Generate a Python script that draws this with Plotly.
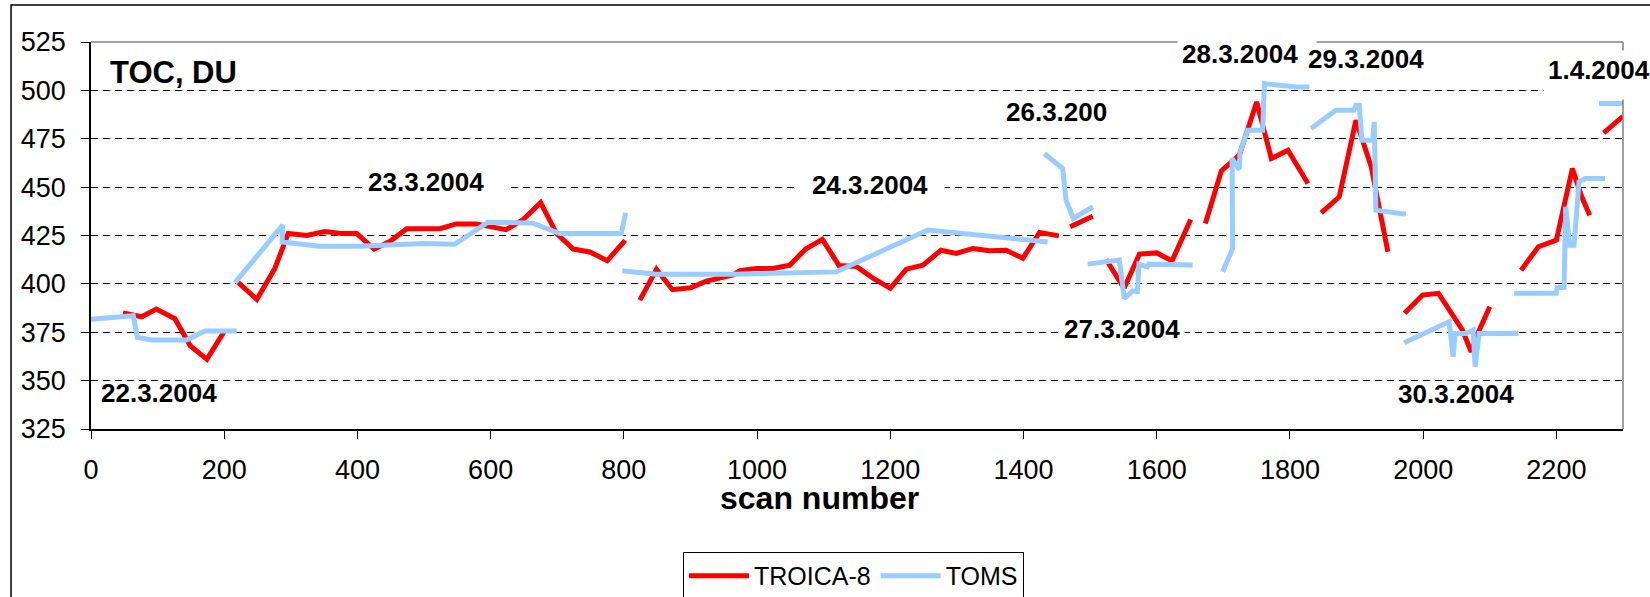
import plotly.graph_objects as go

# ---- data (scan number, TOC in DU); None separates daily segments ----
troica_x = [48, 76, 98, 126, 149, 174, 201, None,
            220, 249, 276, 296, 324, 351, 376, 399, 425, 449, 474, 524, 548, 578, 623, 648, 675, 699, 724, 749, 775, 802, None,
            824, 849, 873, 900, 924, 964, 974, 999, 1024, 1049, 1073, 1098, 1123, 1149, 1174, 1200, 1224, 1249, 1276, 1299, 1324, 1349, 1374, 1399, 1424, 1453, None,
            1470, 1504, None,
            1524, 1551, 1574, 1600, 1623, 1651, None,
            1673, 1697, 1724, 1750, 1772, 1797, 1827, None,
            1847, 1874, 1899, 1909, 1922, 1947, None,
            1972, 1999, 2023, 2059, 2072, 2082, 2100, None,
            2147, 2173, 2200, 2224, 2238, 2250, None,
            2271, 2300]
troica_y = [385, 383, 387, 382, 368, 361, 376, None,
            401, 392, 408, 426, 425, 427, 426, 426, 418, 422, 428.5, 428.5, 431, 431, 428, 433, 442, 426, 418, 416.5, 412, 422.5, None,
            391.6, 407.5, 397, 398, 401.4, 404.6, 406.8, 408, 408, 409.7, 418, 423, 409.5, 409, 403, 397.7, 407.6, 409.7, 417.4, 415.7, 418.3, 417.1, 417.4, 413.2, 426.6, 424.8, None,
            429.5, 435, None,
            412.6, 397.7, 415.4, 416, 411.9, 433.3, None,
            431.2, 458.4, 466.5, 494, 464.8, 469.1, 451.9, None,
            436.7, 445, 484.6, 474.2, 460.5, 416.6, None,
            384.8, 394.2, 395.1, 376.1, 364.9, 374.4, 388.2, None,
            407.1, 419.2, 422.6, 459.6, 445, 435.5, None,
            478, 486.6]

toms_x = [0, 18.5, 63.5, 69.5, 91, 143.5, 171, 218.6, None,
          216, 287.6, 287, 343.5, 403.6, 498.6, 546, 596, 663.6, 703.6, 796.2, 802.6, None,
          797.6, 848.6, 963.6, 1118.6, 1256.3, 1436.3, None,
          1431.3, 1458.8, 1463.8, 1474.8, 1503.8, None,
          1496.3, 1543.8, 1551.3, 1563.8, 1571, 1573.3, 1585.8, 1588, 1653.8, None,
          1699, 1714, 1713, 1724, 1725, 1736.6, 1759, 1761.6, 1809, 1829, None,
          1831.6, 1869, 1896, 1899, 1904, 1908, 1924, 1926.6, 1929, 1974, None,
          1971.5, 2039, 2045, 2048, 2064, 2075, 2078, 2084, 2143, None,
          2136.6, 2200, 2201, 2211.5, 2214, 2220, 2226.5, 2234, 2244, 2273, None,
          2264, 2300]
toms_y = [381.7, 382.2, 383.5, 372.4, 371, 371, 375.6, 375.6, None,
          400.5, 430.4, 421.6, 419.5, 419.5, 420.9, 420.5, 431.9, 431.4, 426, 426, 436.7, None,
          406.8, 405, 405, 406.2, 427.8, 421.7, None,
          467.4, 459.6, 443.3, 433.8, 439.8, None,
          410.2, 412.3, 392.5, 396.4, 396, 410.2, 408.8, 410.2, 409.7, None,
          406.2, 418.3, 464.8, 459.1, 468, 479.4, 479.4, 503.5, 501.8, 501.8, None,
          480.3, 489.7, 489.7, 492.3, 492.3, 474.2, 474.2, 483.7, 438.1, 436, None,
          369.6, 380.4, 362.3, 374.4, 374.4, 376.1, 357.2, 374.4, 374.4, None,
          395.1, 395.1, 398, 398.2, 439.8, 420, 420, 452.7, 454.5, 454.5, None,
          493.2, 493.2]

series_names = ["TROICA-8", "TOMS"]
x_ticks = list(range(0, 2201, 200))
y_ticks = list(range(325, 526, 25))

# date labels and their anchor positions in data coordinates
date_labels = ["22.3.2004", "23.3.2004", "24.3.2004", "26.3.200", "27.3.2004",
               "28.3.2004", "29.3.2004", "30.3.2004", "1.4.2004"]
date_x = [102.8, 408.4, 1170.0, 1448.8, 1547.1, 1630.4, 1914.1, 2050, 2180]
date_y = [343.8, 452.6, 451.0, 488.6, 376.6, 518.9, 516.1, 343.3, 520.7]

FONT = "Liberation Sans, Arial, sans-serif"

fig = go.Figure()
fig.add_trace(go.Scatter(x=troica_x, y=troica_y, mode="lines", name=series_names[0],
                         line=dict(color="#FF0000", width=5), connectgaps=False))
fig.add_trace(go.Scatter(x=toms_x, y=toms_y, mode="lines", name=series_names[1],
                         line=dict(color="#99CCFF", width=5), connectgaps=False))

# per-label box styling (white boxes hide grid / border, as in the original)
CLEAR = "rgba(0,0,0,0)"
label_style = {
    "22.3.2004": dict(bgcolor=CLEAR, xanchor="center", yanchor="middle"),
    "23.3.2004": dict(bgcolor="white", xanchor="left", yanchor="middle", width=134, align="left"),
    "24.3.2004": dict(bgcolor="white", xanchor="center", yanchor="middle", width=140, align="center"),
    "26.3.200": dict(bgcolor=CLEAR, xanchor="center", yanchor="middle"),
    "27.3.2004": dict(bgcolor="white", xanchor="center", yanchor="middle"),
    "28.3.2004": dict(bgcolor="white", xanchor="left", yanchor="middle", width=130, align="left"),
    "29.3.2004": dict(bgcolor=CLEAR, xanchor="center", yanchor="middle"),
    "30.3.2004": dict(bgcolor=CLEAR, xanchor="center", yanchor="middle"),
    "1.4.2004": dict(bgcolor="white", xanchor="left", yanchor="top", width=110, height=40,
                     align="left", valign="top"),
}

annotations = []
for t, x, y in zip(date_labels, date_x, date_y):
    a = dict(text="<b>%s</b>" % t, x=x, y=y, xref="x", yref="y", showarrow=False,
             font=dict(size=26, family=FONT, color="black"), borderpad=4)
    a.update(label_style[t])
    annotations.append(a)
annotations.append(dict(text="<b>TOC, DU</b>", x=124.6, y=509.1, xref="x", yref="y",
                        showarrow=False, font=dict(size=31, family=FONT, color="black"),
                        xanchor="center", yanchor="middle"))
annotations.append(dict(text="<b>scan number</b>", x=0.4758, y=-0.1775, xref="paper", yref="paper",
                        showarrow=False, font=dict(size=32, family=FONT, color="black"),
                        xanchor="center", yanchor="middle"))

shapes = [
    # outer chart border
    dict(type="rect", xref="paper", yref="paper", x0=-0.0522, x1=1.3, y0=-1.0, y1=1.0956,
         line=dict(color="black", width=1.5), fillcolor="rgba(0,0,0,0)", layer="below"),
    # plot-area top and right border (grey)
    dict(type="line", xref="paper", yref="paper", x0=0, x1=1, y0=1, y1=1,
         line=dict(color="#808080", width=1.5)),
    dict(type="line", xref="paper", yref="paper", x0=1, x1=1, y0=0, y1=1,
         line=dict(color="#808080", width=1.5)),
]

fig.update_layout(
    width=1650, height=597,
    margin=dict(l=91, r=27, t=42, b=168, autoexpand=False),
    plot_bgcolor="white", paper_bgcolor="white",
    font=dict(family=FONT, color="black"),
    showlegend=True,
    legend=dict(orientation="h", x=0.3864, xanchor="left", y=-0.3176, yanchor="top",
                font=dict(size=25, family=FONT, color="black"),
                bordercolor="black", borderwidth=1, bgcolor="white",
                itemwidth=60, traceorder="normal"),
    annotations=annotations,
    shapes=shapes,
    xaxis=dict(range=[0, 2300], tickvals=x_ticks, ticks="outside", ticklen=8,
               tickcolor="black", showline=True, linecolor="black", linewidth=1.5,
               showgrid=False, zeroline=False, tickfont=dict(size=27, family=FONT),
               ticklabelstandoff=8),
    yaxis=dict(range=[325, 525], tickvals=y_ticks, ticks="outside", ticklen=8,
               tickcolor="black", showline=True, linecolor="black", linewidth=1.5,
               showgrid=True, gridcolor="black", gridwidth=1, griddash="7px,5px",
               zeroline=False, tickfont=dict(size=27, family=FONT), ticklabelstandoff=10),
)

fig.write_html("out.html",
               config={"displayModeBar": False},
               post_script="document.body.style.margin='0px';document.body.style.overflow='hidden';")
